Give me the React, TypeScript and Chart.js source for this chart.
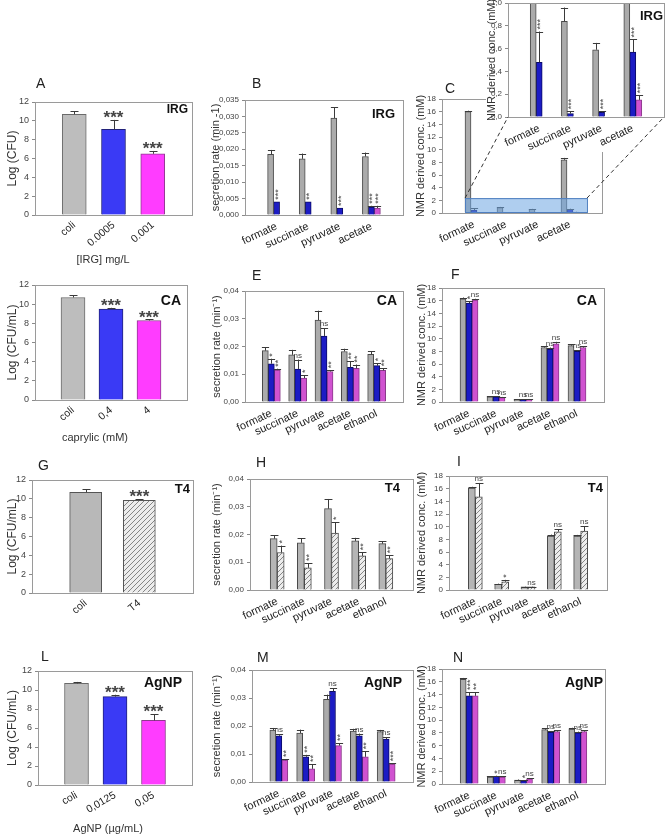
import { useEffect, useRef } from 'react';
import { Chart, registerables } from 'chart.js';

Chart.register(...registerables);

const FONT = "'Liberation Sans', Arial, Helvetica, sans-serif";
Chart.defaults.font.family = FONT;

// ---------- categories ----------
const metabolites4 = ['formate', 'succinate', 'pyruvate', 'acetate'];
const metabolites5 = ['formate', 'succinate', 'pyruvate', 'acetate', 'ethanol'];

// ---------- A: IRG, viability ----------
const irgDoses = ['coli', '0.0005', '0.001'];
const irgLogCfu = [10.7, 9.1, 6.5];
const irgLogCfuErr = [0.3, 1.0, 0.3];
const irgLogCfuSig = ['', '***', '***'];

// ---------- B: IRG, secretion rates ----------
const irgRateCtrl = [0.0185, 0.0171, 0.0295, 0.0178];
const irgRateCtrlErr = [0.0013, 0.0016, 0.0033, 0.0012];
const irgRateLow = [0.004, 0.004, 0.0021, 0.0024];
const irgRateLowErr = [0, 0, 0, 0.0004];
const irgRateLowSig = ['***', '**', '***', '***'];
const irgRateHigh = [null, null, null, 0.0021];
const irgRateHighErr = [null, null, null, 0.0007];
const irgRateHighSig = ['', '', '', '***'];

// ---------- C: IRG, NMR concentrations ----------
const irgNmrCtrl = [16.0, 0.84, 0.59, 8.4];
const irgNmrCtrlErr = [0.15, 0.12, 0.06, 0.3];
const irgNmrLow = [0.48, 0.03, 0.04, 0.57];
const irgNmrLowErr = [0.27, 0.02, 0.01, 0.11];
const irgNmrLowSig = ['***', '***', '***', '***'];
const irgNmrHigh = [null, null, null, 0.15];
const irgNmrHighErr = [null, null, null, 0.04];
const irgNmrHighSig = ['', '', '', '***'];
// magnified window of panel C (category index, value)
const zoomFrom = 0.72;
const zoomTo = 4.53;
const zoomTop = 2.35;

// ---------- D: caprylic acid, viability ----------
const caDoses = ['coli', '0,4', '4'];
const caLogCfu = [10.7, 9.5, 8.3];
const caLogCfuErr = [0.25, 0.12, 0.1];
const caLogCfuSig = ['', '***', '***'];

// ---------- E: caprylic acid, secretion rates ----------
const caRateCtrl = [0.0185, 0.017, 0.0295, 0.0182, 0.0172];
const caRateCtrlErr = [0.0012, 0.0018, 0.0034, 0.001, 0.0011];
const caRateLow = [0.0138, 0.0119, 0.0238, 0.0125, 0.0131];
const caRateLowErr = [0.0018, 0.0034, 0.0028, 0.0022, 0.0009];
const caRateLowSig = ['*', 'ns', 'ns', '**', '*'];
const caRateHigh = [0.0115, 0.0086, 0.011, 0.0121, 0.0114];
const caRateHighErr = [0.0005, 0.0011, 0.0004, 0.0014, 0.0008];
const caRateHighSig = ['**', '*', '**', '**', '**'];

// ---------- F: caprylic acid, NMR concentrations ----------
const caNmrCtrl = [16.3, 0.8, 0.35, 8.6, 8.9];
const caNmrCtrlErr = [0.2, 0.1, 0.05, 0.2, 0.2];
const caNmrLow = [15.6, 0.8, 0.35, 8.3, 8.0];
const caNmrLowErr = [0.3, 0.1, 0.05, 0.3, 0.2];
const caNmrLowSig = ['*', 'ns', 'ns', 'ns', 'ns'];
const caNmrHigh = [16.1, 0.7, 0.4, 9.2, 8.6];
const caNmrHighErr = [0.2, 0.1, 0.05, 0.3, 0.2];
const caNmrHighSig = ['ns', 'ns', 'ns', 'ns', 'ns'];

// ---------- G: T4 phage, viability ----------
const t4Groups = ['coli', 'T4'];
const t4LogCfu = [10.7, 9.85];
const t4LogCfuErr = [0.3, 0.08];
const t4LogCfuSig = ['', '***'];

// ---------- H: T4 phage, secretion rates ----------
const t4RateCtrl = [0.0185, 0.017, 0.0293, 0.0177, 0.0167];
const t4RateCtrlErr = [0.0013, 0.0017, 0.0035, 0.0011, 0.0009];
const t4RateInf = [0.0135, 0.008, 0.0205, 0.0123, 0.0113];
const t4RateInfErr = [0.0025, 0.0017, 0.004, 0.0013, 0.0012];
const t4RateInfSig = ['*', '**', '*', '**', '**'];

// ---------- I: T4 phage, NMR concentrations ----------
const t4NmrCtrl = [16.1, 0.9, 0.5, 8.5, 8.5];
const t4NmrCtrlErr = [0.2, 0.1, 0.05, 0.25, 0.2];
const t4NmrInf = [14.7, 1.3, 0.5, 9.2, 9.3];
const t4NmrInfErr = [2.2, 0.3, 0.05, 0.4, 0.8];
const t4NmrInfSig = ['ns', '*', 'ns', 'ns', 'ns'];

// ---------- L: silver nanoparticles, viability ----------
const agDoses = ['coli', '0,0125', '0,05'];
const agLogCfu = [10.7, 9.3, 6.8];
const agLogCfuErr = [0.15, 0.2, 0.65];
const agLogCfuSig = ['', '***', '***'];

// ---------- M: silver nanoparticles, secretion rates ----------
const agRateCtrl = [0.0185, 0.0175, 0.0295, 0.0182, 0.018];
const agRateCtrlErr = [0.0008, 0.0012, 0.0017, 0.0008, 0.0006];
const agRateLow = [0.0165, 0.009, 0.0324, 0.0165, 0.0153];
const agRateLowErr = [0.0006, 0.0007, 0.0011, 0.0008, 0.0007];
const agRateLowSig = ['ns', '**', 'ns', 'ns', 'ns'];
const agRateHigh = [0.0078, 0.0047, 0.013, 0.009, 0.0064];
const agRateHighErr = [0.0004, 0.0017, 0.0009, 0.002, 0.0003];
const agRateHighSig = ['**', '**', '**', '**', '***'];

// ---------- N: silver nanoparticles, NMR concentrations ----------
const agNmrCtrl = [16.4, 1.1, 0.6, 8.5, 8.6];
const agNmrCtrlErr = [0.2, 0.1, 0.1, 0.2, 0.2];
const agNmrLow = [13.8, 1.2, 0.5, 8.1, 8.0];
const agNmrLowErr = [0.6, 0.1, 0.1, 0.2, 0.2];
const agNmrLowSig = ['***', '*', '*', 'ns', 'ns'];
const agNmrHigh = [13.8, 1.1, 0.8, 8.2, 8.2];
const agNmrHighErr = [0.6, 0.1, 0.1, 0.2, 0.2];
const agNmrHighSig = ['**', 'ns', 'ns', 'ns', 'ns'];

// ---------- colours ----------
const bright = { gray: '#bdbdbd', grayEdge: '#6a6a6a', blue: '#3a3af5', blueEdge: '#22227a', pink: '#ff3cff', pinkEdge: '#8f3a8f' };
const deep = { gray: '#ababab', grayEdge: '#4a4a4a', blue: '#1c1cc4', blueEdge: '#0b0b66', pink: '#d052d0', pinkEdge: '#8a3a8a' };
const HATCH = 'hatch';

type Series = {
  values: (number | null)[];
  err?: (number | null)[];
  sig?: string[];
  fill: string | string[];
  edge: string | string[];
};

type Panel = {
  box: [number, number, number, number];
  plot: [number, number, number, number];
  labels: string[];
  series: Series[];
  yMax: number;
  yStep: number;
  yDec: number;
  tickSize: number;
  yTitle: string;
  yTitleX: number;
  yTitleSize: number;
  rot: number;
  xFont: number;
  xPad: number;
  bar: number;
  letter?: [string, number, number];
  tag?: [string, number, number, number];
  xTitle?: [string, number, number];
  vStars: boolean;
  starSize: number;
  hideSig?: boolean;
  white?: boolean;
  zoom?: boolean;
};

const viability = (
  box: Panel['box'], plot: Panel['plot'], labels: string[], s: Series, extra: Partial<Panel>
): Panel => ({
  box, plot, labels, series: [s], yMax: 12, yStep: 2, yDec: 0, tickSize: 9,
  yTitle: 'Log (CFU/mL)', yTitleX: 13, yTitleSize: 12, rot: 40, xFont: 10.5, xPad: 4, bar: 24,
  vStars: false, starSize: 17, ...extra,
});

const threeSeries = (
  pal: typeof deep,
  a: number[], ae: number[],
  b: (number | null)[], be: (number | null)[], bs: string[],
  c: (number | null)[], ce: (number | null)[], cs: string[]
): Series[] => [
  { values: a, err: ae, fill: pal.gray, edge: pal.grayEdge },
  { values: b, err: be, sig: bs, fill: pal.blue, edge: pal.blueEdge },
  { values: c, err: ce, sig: cs, fill: pal.pink, edge: pal.pinkEdge },
];

const rateAxis = { yMax: 0.04, yStep: 0.01, yDec: 2, tickSize: 8, yTitle: 'secretion rate (min\u207B\u00B9)', yTitleX: 217, yTitleSize: 11 };
const nmrAxis = { yMax: 18, yStep: 2, yDec: 0, tickSize: 8, yTitle: 'NMR derived conc. (mM)', yTitleX: 422, yTitleSize: 11 };
const groupStyle = { rot: 25, xFont: 11, xPad: 5, bar: 6, vStars: true, starSize: 9 };

const panelA = viability([0, 0, 210, 272], [35, 102, 192, 215], irgDoses,
  { values: irgLogCfu, err: irgLogCfuErr, sig: irgLogCfuSig, fill: [bright.gray, bright.blue, bright.pink], edge: [bright.grayEdge, bright.blueEdge, bright.pinkEdge] },
  { yTitle: 'Log (CFU)', letter: ['A', 36, 88], tag: ['IRG', 188, 113, 12], xTitle: ['[IRG] mg/L', 103, 263] });

const panelB: Panel = {
  box: [200, 0, 225, 272], plot: [245, 100, 403, 215], labels: metabolites4,
  series: threeSeries(deep, irgRateCtrl, irgRateCtrlErr, irgRateLow, irgRateLowErr, irgRateLowSig, irgRateHigh, irgRateHighErr, irgRateHighSig),
  ...rateAxis, yMax: 0.035, yStep: 0.005, yDec: 3, yTitle: 'secretion rate (min -1)', yTitleX: 216,
  ...groupStyle, letter: ['B', 252, 88], tag: ['IRG', 395, 118, 13],
};

const irgNmrSeries = threeSeries(deep, irgNmrCtrl, irgNmrCtrlErr, irgNmrLow, irgNmrLowErr, irgNmrLowSig, irgNmrHigh, irgNmrHighErr, irgNmrHighSig);

const panelC: Panel = {
  box: [410, 0, 260, 272], plot: [442, 99, 602, 213], labels: metabolites4, series: irgNmrSeries,
  ...nmrAxis, yTitleX: 421, ...groupStyle, letter: ['C', 445, 93], hideSig: true, zoom: true,
};

const panelInset: Panel = {
  box: [486, -12, 194, 164], plot: [508, 3, 664, 117], labels: metabolites4, series: irgNmrSeries,
  ...nmrAxis, yMax: 1, yStep: 0.2, yDec: 1, yTitleX: 492,
  ...groupStyle, tag: ['IRG', 663, 20, 13], white: true,
};

const panelD = viability([0, 262, 210, 190], [35, 285, 187, 400], caDoses,
  { values: caLogCfu, err: caLogCfuErr, sig: caLogCfuSig, fill: [bright.gray, bright.blue, bright.pink], edge: [bright.grayEdge, bright.blueEdge, bright.pinkEdge] },
  { tag: ['CA', 181, 305, 14], xTitle: ['caprylic (mM)', 95, 441] });

const panelE: Panel = {
  box: [200, 262, 225, 190], plot: [245, 291, 403, 402], labels: metabolites5,
  series: threeSeries(deep, caRateCtrl, caRateCtrlErr, caRateLow, caRateLowErr, caRateLowSig, caRateHigh, caRateHighErr, caRateHighSig),
  ...rateAxis, ...groupStyle, letter: ['E', 252, 280], tag: ['CA', 397, 305, 14],
};

const panelF: Panel = {
  box: [410, 262, 260, 190], plot: [442, 288, 604, 402], labels: metabolites5,
  series: threeSeries(deep, caNmrCtrl, caNmrCtrlErr, caNmrLow, caNmrLowErr, caNmrLowSig, caNmrHigh, caNmrHighErr, caNmrHighSig),
  ...nmrAxis, ...groupStyle, letter: ['F', 451, 279], tag: ['CA', 597, 305, 14],
};

const panelG = viability([0, 445, 210, 195], [32, 480, 193, 593], t4Groups,
  { values: t4LogCfu, err: t4LogCfuErr, sig: t4LogCfuSig, fill: ['#b8b8b8', HATCH], edge: ['#555', '#555'] },
  { bar: 32, letter: ['G', 38, 470], tag: ['T4', 190, 493, 13] });

const panelH: Panel = {
  box: [200, 445, 225, 195], plot: [250, 479, 413, 590], labels: metabolites5,
  series: [
    { values: t4RateCtrl, err: t4RateCtrlErr, fill: '#b5b5b5', edge: '#4a4a4a' },
    { values: t4RateInf, err: t4RateInfErr, sig: t4RateInfSig, fill: HATCH, edge: '#4a4a4a' },
  ],
  ...rateAxis, ...groupStyle, bar: 7, letter: ['H', 256, 467], tag: ['T4', 400, 492, 13],
};

const panelI: Panel = {
  box: [410, 445, 260, 195], plot: [449, 476, 607, 590], labels: metabolites5,
  series: [
    { values: t4NmrCtrl, err: t4NmrCtrlErr, fill: '#b5b5b5', edge: '#4a4a4a' },
    { values: t4NmrInf, err: t4NmrInfErr, sig: t4NmrInfSig, fill: HATCH, edge: '#4a4a4a' },
  ],
  ...nmrAxis, ...groupStyle, bar: 7, letter: ['I', 457, 466], tag: ['T4', 603, 492, 13],
};

const panelL = viability([0, 640, 210, 196], [38, 671, 192, 785], agDoses,
  { values: agLogCfu, err: agLogCfuErr, sig: agLogCfuSig, fill: [bright.gray, bright.blue, bright.pink], edge: [bright.grayEdge, bright.blueEdge, bright.pinkEdge] },
  { rot: 30, letter: ['L', 41, 661], tag: ['AgNP', 182, 687, 14], xTitle: ['AgNP (\u00B5g/mL)', 108, 832] });

const panelM: Panel = {
  box: [200, 640, 225, 196], plot: [252, 670, 413, 782], labels: metabolites5,
  series: threeSeries(deep, agRateCtrl, agRateCtrlErr, agRateLow, agRateLowErr, agRateLowSig, agRateHigh, agRateHighErr, agRateHighSig),
  ...rateAxis, ...groupStyle, letter: ['M', 257, 662], tag: ['AgNP', 402, 687, 14],
};

const panelN: Panel = {
  box: [410, 640, 260, 196], plot: [442, 669, 605, 784], labels: metabolites5,
  series: threeSeries(deep, agNmrCtrl, agNmrCtrlErr, agNmrLow, agNmrLowErr, agNmrLowSig, agNmrHigh, agNmrHighErr, agNmrHighSig),
  ...nmrAxis, ...groupStyle, letter: ['N', 453, 662], tag: ['AgNP', 603, 687, 14],
};

const panels: Panel[] = [panelA, panelB, panelC, panelInset, panelD, panelE, panelF, panelG, panelH, panelI, panelL, panelM, panelN];

// ---------- helpers ----------
const pad = <T,>(arr: T[], fillWith: T): T[] => [fillWith, ...arr, fillWith];

function makeHatch(): CanvasPattern | string {
  const c = document.createElement('canvas');
  c.width = 5;
  c.height = 5;
  const g = c.getContext('2d');
  if (!g) return '#ddd';
  g.fillStyle = '#ececec';
  g.fillRect(0, 0, 5, 5);
  g.strokeStyle = '#858585';
  g.lineWidth = 1;
  g.beginPath();
  g.moveTo(-1, 6);
  g.lineTo(6, -1);
  g.stroke();
  return g.createPattern(c, 'repeat') || '#ddd';
}

function drawSig(ctx: CanvasRenderingContext2D, text: string, x: number, top: number, vertical: boolean, size: number) {
  const starsOnly = /^\*+$/.test(text);
  ctx.save();
  ctx.fillStyle = '#444';
  if (starsOnly && vertical) {
    ctx.font = `${size}px ${FONT}`;
    const m = ctx.measureText(text);
    ctx.translate(x, top - 2);
    ctx.rotate(-Math.PI / 2);
    ctx.textAlign = 'left';
    ctx.textBaseline = 'alphabetic';
    const b = (m.actualBoundingBoxAscent - m.actualBoundingBoxDescent) / 2;
    ctx.fillText(text, 0, b);
  } else {
    ctx.font = starsOnly ? `bold ${size}px ${FONT}` : `8px ${FONT}`;
    const m = ctx.measureText(text);
    ctx.textAlign = 'center';
    ctx.textBaseline = 'alphabetic';
    ctx.fillText(text, x, top - 2 - m.actualBoundingBoxDescent);
  }
  ctx.restore();
}

function decor(p: Panel) {
  const ox = p.box[0];
  const oy = p.box[1];
  return {
    id: 'decor',
    beforeDraw(chart: Chart) {
      if (!p.white) return;
      const ctx = chart.ctx;
      ctx.save();
      ctx.fillStyle = '#ffffff';
      ctx.fillRect(0, 0, chart.width, chart.height);
      ctx.restore();
    },
    afterDatasetsDraw(chart: Chart) {
      const ctx = chart.ctx;
      const ys = chart.scales.y;
      const area = chart.chartArea;
      p.series.forEach((s, di) => {
        const meta = chart.getDatasetMeta(di);
        s.values.forEach((v, k) => {
          if (v == null) return;
          const el = meta.data[k + 1] as unknown as { x: number; y: number; width: number };
          if (!el) return;
          const e = s.err?.[k] ?? 0;
          let top = Math.max(el.y, area.top);
          if (e && e > 0) {
            const yE = ys.getPixelForValue(v + e);
            ctx.save();
            ctx.beginPath();
            ctx.rect(area.left, area.top, area.right - area.left, area.bottom - area.top);
            ctx.clip();
            ctx.strokeStyle = '#3a3a3a';
            ctx.lineWidth = 1;
            const cap = Math.min(4, el.width * 0.35 + 1.5);
            const x = Math.round(el.x) + 0.5;
            ctx.beginPath();
            ctx.moveTo(x, el.y);
            ctx.lineTo(x, yE);
            ctx.moveTo(x - cap, Math.round(yE) + 0.5);
            ctx.lineTo(x + cap, Math.round(yE) + 0.5);
            ctx.stroke();
            ctx.restore();
            top = Math.max(yE, area.top);
          }
          const label = p.hideSig ? '' : s.sig?.[k];
          if (label) drawSig(ctx, label, el.x, top, p.vStars, p.starSize);
        });
      });
      if (p.zoom) {
        const xs = chart.scales.x;
        const x0 = xs.getPixelForValue(zoomFrom);
        const x1 = xs.getPixelForValue(zoomTo);
        const y0 = ys.getPixelForValue(zoomTop);
        ctx.save();
        ctx.fillStyle = 'rgba(110,165,225,0.55)';
        ctx.strokeStyle = '#4f7fc0';
        ctx.lineWidth = 1;
        ctx.fillRect(x0, y0, x1 - x0, area.bottom - y0);
        ctx.strokeRect(x0 + 0.5, y0 + 0.5, x1 - x0, area.bottom - y0 - 1);
        ctx.restore();
      }
    },
    afterDraw(chart: Chart) {
      const ctx = chart.ctx;
      const a = chart.chartArea;
      ctx.save();
      ctx.strokeStyle = '#9a9a9a';
      ctx.lineWidth = 1;
      ctx.strokeRect(Math.round(a.left) + 0.5, Math.round(a.top) + 0.5, Math.round(a.right - a.left), Math.round(a.bottom - a.top));
      // y-axis title
      ctx.fillStyle = '#333';
      ctx.font = `${p.yTitleSize}px ${FONT}`;
      ctx.textAlign = 'center';
      ctx.textBaseline = 'middle';
      ctx.save();
      ctx.translate(p.yTitleX - ox, (a.top + a.bottom) / 2);
      ctx.rotate(-Math.PI / 2);
      ctx.fillText(p.yTitle, 0, 0);
      ctx.restore();
      ctx.textBaseline = 'alphabetic';
      if (p.xTitle) {
        ctx.font = `11px ${FONT}`;
        ctx.fillText(p.xTitle[0], p.xTitle[1] - ox, p.xTitle[2] - oy);
      }
      if (p.letter) {
        ctx.fillStyle = '#222';
        ctx.font = `14px ${FONT}`;
        ctx.textAlign = 'left';
        ctx.fillText(p.letter[0], p.letter[1] - ox, p.letter[2] - oy);
      }
      if (p.tag) {
        ctx.fillStyle = '#111';
        ctx.font = `bold ${p.tag[3]}px ${FONT}`;
        ctx.textAlign = 'right';
        ctx.fillText(p.tag[0], p.tag[1] - ox, p.tag[2] - oy);
      }
      ctx.restore();
    },
  };
}

function buildChart(canvas: HTMLCanvasElement, p: Panel, hatch: CanvasPattern | string): Chart {
  const paint = (c: string) => (c === HATCH ? hatch : c);
  const datasets = p.series.map((s) => ({
    data: pad(s.values, null),
    backgroundColor: Array.isArray(s.fill) ? pad(s.fill.map(paint), 'transparent') : paint(s.fill),
    borderColor: Array.isArray(s.edge) ? pad(s.edge, 'transparent') : s.edge,
    borderWidth: 1,
    barThickness: p.bar,
  }));
  const [bx, by, bw, bh] = p.box;
  const [pl, pt, pr, pb] = p.plot;
  return new Chart(canvas, {
    type: 'bar',
    data: { labels: pad(p.labels, ''), datasets: datasets as any },
    options: {
      responsive: false,
      animation: false,
      events: [],
      layout: { padding: { left: 0, top: pt - by, right: bx + bw - pr, bottom: 0 } },
      plugins: { legend: { display: false }, tooltip: { enabled: false }, title: { display: false } },
      scales: {
        x: {
          offset: false,
          grid: { display: false, drawTicks: false },
          border: { display: false },
          ticks: {
            autoSkip: false,
            maxRotation: p.rot,
            minRotation: p.rot,
            padding: p.xPad,
            color: '#222',
            font: { size: p.xFont, family: FONT },
          },
          afterFit: (s: any) => {
            s.height = by + bh - pb;
          },
        },
        y: {
          min: 0,
          max: p.yMax,
          grid: { display: true, drawOnChartArea: false, drawTicks: true, tickLength: 3, color: '#8a8a8a' },
          border: { display: false },
          ticks: {
            stepSize: p.yStep,
            padding: 3,
            color: '#444',
            font: { size: p.tickSize, family: FONT },
            callback: (v: any) => Number(v).toFixed(p.yDec).replace('.', ','),
          },
          afterFit: (s: any) => {
            s.width = pl - bx;
          },
        },
      },
    },
    plugins: [decor(p)],
  } as any);
}

export default function App() {
  const refs = useRef<(HTMLCanvasElement | null)[]>([]);
  const overlayRef = useRef<HTMLCanvasElement | null>(null);

  useEffect(() => {
    const hatch = makeHatch();
    const charts = panels.map((p, i) => buildChart(refs.current[i] as HTMLCanvasElement, p, hatch));

    // dashed leader lines from the magnified window in C to the inset frame
    const cChart = charts[panels.indexOf(panelC)];
    const inset = charts[panels.indexOf(panelInset)];
    const ov = overlayRef.current;
    const ctx = ov ? ov.getContext('2d') : null;
    if (ctx) {
      ctx.clearRect(0, 0, 666, 836);
      const xs = cChart.scales.x;
      const ys = cChart.scales.y;
      const x0 = xs.getPixelForValue(zoomFrom) + panelC.box[0];
      const x1 = xs.getPixelForValue(zoomTo) + panelC.box[0];
      const y0 = ys.getPixelForValue(zoomTop) + panelC.box[1];
      const a = inset.chartArea;
      const ix0 = a.left + panelInset.box[0];
      const ix1 = a.right + panelInset.box[0];
      const iy = a.bottom + panelInset.box[1];
      ctx.save();
      ctx.strokeStyle = '#333';
      ctx.lineWidth = 1;
      ctx.setLineDash([4, 3]);
      ctx.beginPath();
      ctx.moveTo(x0, y0);
      ctx.lineTo(ix0, iy);
      ctx.moveTo(x1, y0);
      ctx.lineTo(ix1, iy);
      ctx.stroke();
      ctx.restore();
    }
    return () => charts.forEach((c) => c.destroy());
  }, []);

  return (
    <div style={{ position: 'absolute', left: 0, top: 0, width: 666, height: 836, overflow: 'hidden', background: '#fff' }}>
      {panels.map((p, i) => (
        <canvas
          key={i}
          ref={(el) => {
            refs.current[i] = el;
          }}
          width={p.box[2]}
          height={p.box[3]}
          style={{ position: 'absolute', left: p.box[0], top: p.box[1], width: p.box[2], height: p.box[3] }}
        />
      ))}
      <canvas
        ref={overlayRef}
        width={666}
        height={836}
        style={{ position: 'absolute', left: 0, top: 0, width: 666, height: 836, pointerEvents: 'none' }}
      />
    </div>
  );
}
